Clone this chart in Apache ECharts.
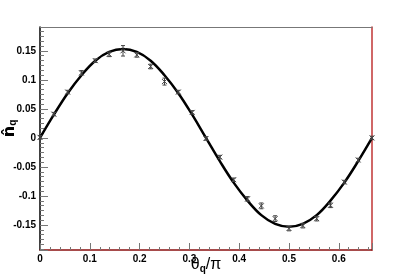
<!DOCTYPE html>
<html>
<head>
<meta charset="utf-8">
<script src="https://cdn.jsdelivr.net/npm/echarts@6/dist/echarts.min.js"></script>
<style>
  html, body { margin: 0; padding: 0; background: #fff; }
  #main { width: 415px; height: 280px; }
</style>
</head>
<body>
<div id="main"></div>
<script>
// measured points (theta/pi, n_q, error)
const pointX = [0, 0.0278, 0.0556, 0.0833, 0.1111, 0.1389, 0.1667, 0.1944, 0.2222, 0.25, 0.2778, 0.3056,
  0.3333, 0.3611, 0.3889, 0.4167, 0.4444, 0.4722, 0.5, 0.5278, 0.5556, 0.5833, 0.6111, 0.6389, 0.6667];
const pointY = [0.001, 0.041, 0.079, 0.112, 0.133, 0.144, 0.150, 0.143, 0.123, 0.097, 0.079, 0.044,
  -0.001, -0.033, -0.072, -0.105, -0.117, -0.139, -0.156, -0.151, -0.139, -0.116, -0.076, -0.038, 0.000];
const pointErr = [0.003, 0.003, 0.003, 0.004, 0.003, 0.004, 0.009, 0.004, 0.004, 0.006, 0.003, 0.003,
  0.003, 0.003, 0.003, 0.004, 0.005, 0.005, 0.004, 0.004, 0.004, 0.004, 0.003, 0.003, 0.003];

// fitted curve
const curveX = pointX;
const curveY = [0, 0.040, 0.077, 0.108, 0.133, 0.148, 0.153, 0.148, 0.133, 0.108, 0.077, 0.040,
  0, -0.040, -0.077, -0.108, -0.133, -0.148, -0.153, -0.148, -0.133, -0.108, -0.077, -0.040, 0];

const font = 'Liberation Sans, Arial, sans-serif';

const chart = echarts.init(document.getElementById('main'));

function fmt(v) {
  if (Math.abs(v) < 1e-9) return '0';
  return String(Math.round(v * 1000) / 1000);
}

const option = {
  animation: false,
  grid: { left: 40, right: 43, top: 27, bottom: 30, outerBoundsMode: 'none', containLabel: false },
  xAxis: [
    {
      type: 'value', min: 0, max: 0.6667, interval: 0.1,
      name: '{t|θ}{s|q}{t|/π}', nameLocation: 'middle', nameGap: 6, nameMoveOverlap: false,
      nameTextStyle: {
        rich: {
          t: { fontFamily: font, fontSize: 16, color: '#000' },
          s: { fontFamily: font, fontSize: 10, fontWeight: 'bold', color: '#000', padding: [8, 0, 0, 0] }
        }
      },
      axisLine: { onZero: false, lineStyle: { color: '#8b1010', width: 1.5 } },
      axisTick: { inside: true, length: 7, lineStyle: { color: '#777' } },
      minorTick: { show: true, splitNumber: 5, length: 3, lineStyle: { color: '#777' } },
      splitLine: { show: false },
      axisLabel: {
        fontFamily: font, fontWeight: 'bold', fontSize: 10, color: '#000', margin: 4,
        showMaxLabel: false,
        formatter: v => (Math.abs(v * 10 - Math.round(v * 10)) < 1e-6 ? fmt(v) : '')
      }
    },
    {
      type: 'value', min: 0, max: 0.6667, position: 'top',
      axisLine: { show: true, onZero: false, lineStyle: { color: '#777', width: 1 } },
      axisTick: { show: false }, axisLabel: { show: false }, splitLine: { show: false }
    }
  ],
  yAxis: [
    {
      type: 'value', min: -0.193, max: 0.191, splitNumber: 8,
      minInterval: 0.05, maxInterval: 0.05,
      name: '{n|n\u0302}{s|q}', nameLocation: 'middle', nameGap: 22, nameRotate: 90, nameMoveOverlap: false,
      nameTextStyle: {
        padding: [0, 0, 0, 20],
        rich: {
          n: { fontFamily: 'DejaVu Sans', fontSize: 16, fontWeight: 'bold', color: '#000' },
          s: { fontFamily: font, fontSize: 10, fontWeight: 'bold', color: '#000', padding: [7, 0, 0, 0] }
        }
      },
      axisLine: { show: true, onZero: false, lineStyle: { color: '#000', width: 1.5 } },
      axisTick: { inside: true, length: 8, lineStyle: { color: '#777' } },
      minorTick: { show: true, splitNumber: 6, length: 4, lineStyle: { color: '#777' } },
      splitLine: { show: false },
      axisLabel: {
        fontFamily: font, fontWeight: 'bold', fontSize: 10, color: '#000', margin: 4,
        showMinLabel: false, showMaxLabel: false, formatter: fmt
      }
    },
    {
      type: 'value', min: -0.193, max: 0.191, position: 'right',
      axisLine: { show: true, onZero: false, lineStyle: { color: '#c03535', width: 1.5 } },
      axisTick: { show: false }, axisLabel: { show: false }, splitLine: { show: false }
    }
  ],
  series: [
    {
      type: 'line',
      data: curveX.map((x, i) => [x, curveY[i]]),
      smooth: 0.4,
      showSymbol: false,
      lineStyle: { color: '#000', width: 2.5 },
      z: 3
    },
    {
      type: 'custom',
      data: pointX.map((x, i) => [x, pointY[i], pointErr[i]]),
      renderItem: function (params, api) {
        const x = api.value(0), y = api.value(1), e = api.value(2);
        const c = api.coord([x, y]);
        const hi = api.coord([x, y + e]);
        const lo = api.coord([x, y - e]);
        const s = 2.5;
        const style = { stroke: '#444', lineWidth: 1 };
        return {
          type: 'group',
          children: [
            { type: 'line', shape: { x1: c[0], y1: hi[1], x2: c[0], y2: lo[1] }, style },
            { type: 'line', shape: { x1: c[0] - 2, y1: hi[1], x2: c[0] + 2, y2: hi[1] }, style },
            { type: 'line', shape: { x1: c[0] - 2, y1: lo[1], x2: c[0] + 2, y2: lo[1] }, style },
            { type: 'line', shape: { x1: c[0] - s, y1: c[1] - s, x2: c[0] + s, y2: c[1] + s }, style },
            { type: 'line', shape: { x1: c[0] - s, y1: c[1] + s, x2: c[0] + s, y2: c[1] - s }, style }
          ]
        };
      },
      z: 4
    }
  ]
};

chart.setOption(option);
</script>
</body>
</html>
